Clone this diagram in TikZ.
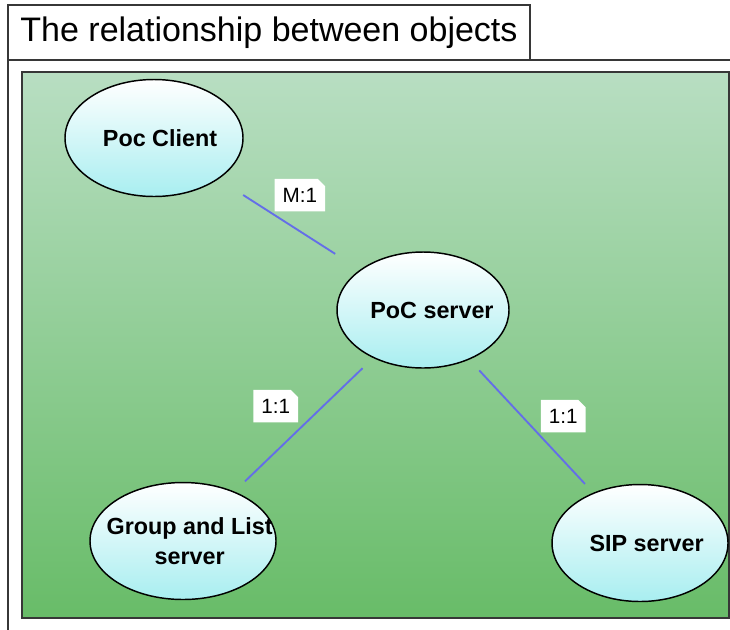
\documentclass[tikz,border=0pt]{standalone}
\usepackage{fontspec}
\setmainfont{Liberation Sans}
\usetikzlibrary{shapes,positioning}

\definecolor{bgtop}{RGB}{184,222,194}
\definecolor{bgbottom}{RGB}{104,188,104}
\definecolor{objbottom}{RGB}{168,238,240}
\definecolor{linkblue}{RGB}{100,110,232}
\definecolor{framegray}{RGB}{55,55,55}

\begin{document}
\begin{tikzpicture}[x=0.75pt, y=-0.75pt,
    frame/.style={draw=framegray, line width=1.1pt},
    obj/.style={ellipse, draw=black, line width=1.1pt, top color=white, bottom color=objbottom, inner sep=0pt},
    objtext/.style={font=\fontsize{17.5}{22.5}\selectfont\bfseries, align=center, inner sep=0pt},
    link/.style={draw=linkblue, line width=1.4pt},
    note/.style={chamfered rectangle, chamfered rectangle corners=north east, chamfered rectangle xsep=2pt,
        fill=white, font=\fontsize{15.5}{18}\selectfont, inner xsep=4pt, minimum height=23pt}]
    \useasboundingbox (0,0) rectangle (730,629);
    \clip (0,0) rectangle (730,629);
    % frame and title
    \draw[frame] (8,640) -- (8,5) -- (530,5) -- (530,60);
    \draw[frame] (8,60) -- (740,60);
    \node[font=\fontsize{25.5}{30}\selectfont, inner sep=0pt] (title) at (269,33) {The relationship between objects};
    \draw[draw=framegray, line width=0.8pt, top color=bgtop, bottom color=bgbottom] (22,72) rectangle (729,618);
    % objects
    \node[obj, minimum width=133.5pt, minimum height=87.75pt] (client) at (154,138) {};
    \node[obj, minimum width=129pt, minimum height=87pt] (server) at (423,310) {};
    \node[obj, minimum width=139.5pt, minimum height=87.75pt] (group) at (183,541) {};
    \node[obj, minimum width=132pt, minimum height=87.75pt] (sip) at (640,543) {};
    \node[objtext] at ([xshift=4.5pt]client) {Poc Client};
    \node[objtext] at ([xshift=6.75pt]server) {PoC server};
    \node[objtext] at ([xshift=5pt]group) {Group and List\\server};
    \node[objtext] at ([xshift=5pt]sip) {SIP server};
    % relations
    \draw[link, shorten <=22pt, shorten >=22pt] (client) -- node[note, xshift=8pt, yshift=22pt] {M:1} (server);
    \draw[link, shorten <=11pt, shorten >=11pt] (server) -- node[note, xshift=-21pt, yshift=14pt] {1:1} (group);
    \draw[link, shorten <=11pt, shorten >=9pt] (server) -- node[note, xshift=24pt, yshift=7.5pt] {1:1} (sip);
\end{tikzpicture}
\end{document}
